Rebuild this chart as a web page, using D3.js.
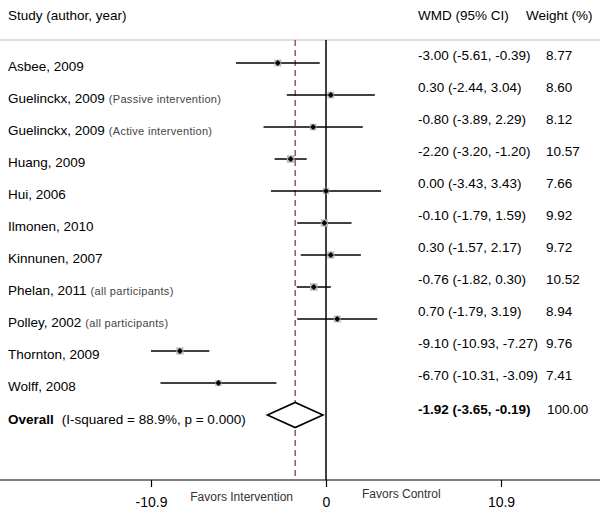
<!DOCTYPE html>
<html>
<head>
<meta charset="utf-8">
<script src="https://cdn.jsdelivr.net/npm/d3@7"></script>
<style>
  body { margin: 0; background: #fff; }
  svg { display: block; font-family: "Liberation Sans", Arial, sans-serif; }
</style>
</head>
<body>
<svg id="forest" width="600" height="513"></svg>
<script>
// study rows
const studies = ["Asbee, 2009", "Guelinckx, 2009", "Guelinckx, 2009", "Huang, 2009", "Hui, 2006",
    "Ilmonen, 2010", "Kinnunen, 2007", "Phelan, 2011", "Polley, 2002", "Thornton, 2009", "Wolff, 2008"];
const notes = ["", "(Passive intervention)", "(Active intervention)", "", "", "", "",
    "(all participants)", "(all participants)", "", ""];
const wmd = [-3.00, 0.30, -0.80, -2.20, 0.00, -0.10, 0.30, -0.76, 0.70, -9.10, -6.70];
const lower = [-5.61, -2.44, -3.89, -3.20, -3.43, -1.79, -1.57, -1.82, -1.79, -10.93, -10.31];
const upper = [-0.39, 3.04, 2.29, -1.20, 3.43, 1.59, 2.17, 0.30, 3.19, -7.27, -3.09];
const weights = [8.77, 8.60, 8.12, 10.57, 7.66, 9.92, 9.72, 10.52, 8.94, 9.76, 7.41];

// pooled estimate
const overallLabel = "Overall";
const overallNote = "(I-squared = 88.9%, p = 0.000)";
const overallWmd = -1.92, overallLo = -3.65, overallHi = -0.19, overallWeight = 100.00;

// axis
const tickValues = [-10.9, 0, 10.9];
const tickLabels = ["-10.9", "0", "10.9"];
const favorLabels = ["Favors Intervention", "Favors Control"];

const svg = d3.select("#forest");
const W = 600;
const fs = 13.5;

let x = d3.scaleLinear().domain([-10.9, 10.9]).range([151, 501]);
let y = d3.scaleLinear().domain([0, studies.length]).range([63, 415]);

const topY = 40, axisY = 480;

// header
svg.append("text").attr("x", 8).attr("y", 20).attr("font-size", fs).text("Study (author, year)");
svg.append("text").attr("x", 418).attr("y", 20).attr("font-size", fs).text("WMD (95% CI)");
svg.append("text").attr("x", 526).attr("y", 20).attr("font-size", fs).text("Weight (%)");
svg.append("line").attr("x1", 0).attr("x2", W).attr("y1", topY).attr("y2", topY)
    .attr("stroke", "#d0d0d0").attr("stroke-width", 1.5);

// reference lines
svg.append("line").attr("x1", x(0)).attr("x2", x(0)).attr("y1", topY).attr("y2", axisY)
    .attr("stroke", "#000").attr("stroke-width", 1.5);
svg.append("line").attr("x1", x(overallWmd)).attr("x2", x(overallWmd)).attr("y1", topY).attr("y2", axisY)
    .attr("stroke", "#8a3b4c").attr("stroke-width", 1.3).attr("stroke-dasharray", "6,4");

let rows = studies.map((s, i) => ({
    name: s, note: notes[i], est: wmd[i], lo: lower[i], hi: upper[i], w: weights[i], i: i
}));

let g = svg.selectAll(".study").data(rows).enter().append("g").attr("class", "study");

// CI lines
g.append("line")
    .attr("x1", d => x(Math.max(d.lo, -10.9)))
    .attr("x2", d => x(d.hi))
    .attr("y1", d => y(d.i)).attr("y2", d => y(d.i))
    .attr("stroke", "#000").attr("stroke-width", 1.6);

// weight boxes
g.append("rect")
    .attr("x", d => x(d.est) - Math.sqrt(d.w) * 1.15)
    .attr("y", d => y(d.i) - Math.sqrt(d.w) * 1.15)
    .attr("width", d => Math.sqrt(d.w) * 2.3)
    .attr("height", d => Math.sqrt(d.w) * 2.3)
    .attr("fill", "#b8b8b8");

// point estimate
g.append("path")
    .attr("d", d => {
        let cx = x(d.est), cy = y(d.i), r = 3;
        return `M${cx - r},${cy}L${cx},${cy - r}L${cx + r},${cy}L${cx},${cy + r}Z`;
    })
    .attr("fill", "#000");

// labels on the left
let lab = g.append("text")
    .attr("x", 8).attr("y", d => y(d.i) + 8)
    .attr("font-size", fs);
lab.append("tspan").text(d => d.name);
lab.append("tspan").attr("dx", 4).attr("font-size", 11).attr("fill", "#444")
    .attr("letter-spacing", 0.3).text(d => d.note);

// estimates on the right
g.append("text").attr("x", 418).attr("y", d => y(d.i) - 3.5).attr("font-size", fs)
    .text(d => d.est.toFixed(2) + " (" + d.lo.toFixed(2) + ", " + d.hi.toFixed(2) + ")");
g.append("text").attr("x", 546).attr("y", d => y(d.i) - 3.5).attr("font-size", fs)
    .text(d => d.w.toFixed(2));

// overall row
let oy = y(studies.length);
svg.append("path")
    .attr("d", `M${x(overallLo)},${oy}L${x(overallWmd)},${oy - 12.5}L${x(overallHi)},${oy}L${x(overallWmd)},${oy + 12.5}Z`)
    .attr("fill", "#fff").attr("stroke", "#000").attr("stroke-width", 1.6);
let ol = svg.append("text").attr("x", 8).attr("y", oy + 9).attr("font-size", fs);
ol.append("tspan").attr("font-weight", "bold").text(overallLabel);
ol.append("tspan").attr("dx", 8).text(overallNote);
svg.append("text").attr("x", 418).attr("y", oy - 1).attr("font-size", fs).attr("font-weight", "bold")
    .text(overallWmd.toFixed(2) + " (" + overallLo.toFixed(2) + ", " + overallHi.toFixed(2) + ")");
svg.append("text").attr("x", 547).attr("y", oy - 1).attr("font-size", fs)
    .text(overallWeight.toFixed(2));

// x axis
svg.append("line").attr("x1", 0).attr("x2", W).attr("y1", axisY).attr("y2", axisY)
    .attr("stroke", "#000").attr("stroke-width", 1.2);
let xAxis = d3.axisBottom(x).tickValues(tickValues).tickSize(7)
    .tickFormat((d, i) => tickLabels[i]);
let ax = svg.append("g").attr("class", "axis")
    .attr("transform", "translate(0," + axisY + ")")
    .call(xAxis);
ax.select(".domain").remove();
ax.selectAll(".tick line").attr("stroke", "#000").attr("stroke-width", 1.2);
ax.selectAll(".tick text").attr("font-size", 14).attr("font-family", "Liberation Sans, Arial, sans-serif")
    .attr("fill", "#000").attr("dy", 0).attr("y", 27);

svg.append("text").attr("x", 293).attr("y", 501).attr("text-anchor", "end")
    .attr("font-size", 12).attr("fill", "#333").text(favorLabels[0]);
svg.append("text").attr("x", 362).attr("y", 498)
    .attr("font-size", 12).attr("fill", "#333").text(favorLabels[1]);
</script>
</body>
</html>
